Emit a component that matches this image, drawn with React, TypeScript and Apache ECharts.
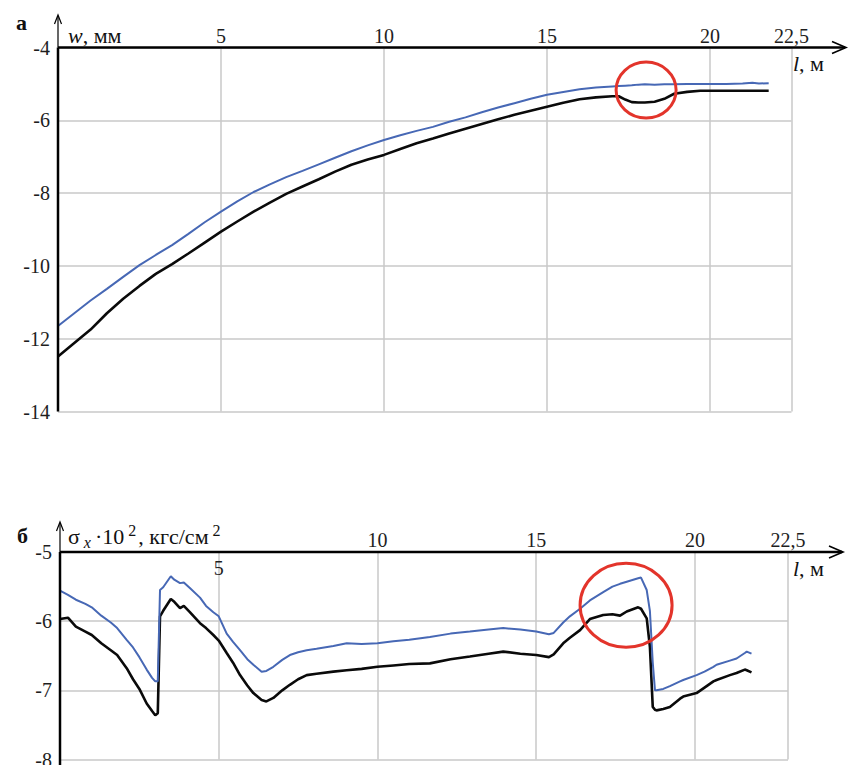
import React, { useEffect, useRef } from "react";
import * as echarts from "echarts";

// ---------- data: chart "а" (w, мм vs l, м) ----------
const topL = [0, 0.5, 1, 1.5, 2, 2.5, 3, 3.5, 4, 4.5, 5, 5.5, 6, 6.5, 7, 7.5, 8, 8.5, 9, 9.5, 10, 10.5, 11, 11.5, 12, 12.5, 13, 13.5, 14, 14.5, 15, 15.5, 16, 16.5, 17, 17.2, 17.4, 17.6, 17.8, 18, 18.3, 18.6, 18.9, 19.3, 19.7, 20, 20.5, 21, 21.3, 21.5, 21.8];
const topBlue = [-11.65, -11.3, -10.95, -10.63, -10.3, -9.98, -9.7, -9.43, -9.12, -8.8, -8.51, -8.23, -7.97, -7.76, -7.56, -7.39, -7.21, -7.03, -6.85, -6.69, -6.54, -6.41, -6.29, -6.18, -6.04, -5.92, -5.78, -5.65, -5.53, -5.41, -5.3, -5.22, -5.15, -5.1, -5.07, -5.06, -5.05, -5.04, -5.02, -5.01, -5.02, -5.01, -5.01, -5.0, -5.0, -5.0, -5.0, -4.99, -4.97, -4.99, -4.98];
const topBlack = [-12.49, -12.12, -11.75, -11.3, -10.9, -10.55, -10.22, -9.95, -9.66, -9.36, -9.06, -8.78, -8.51, -8.26, -8.02, -7.82, -7.62, -7.41, -7.22, -7.08, -6.95, -6.79, -6.63, -6.5, -6.36, -6.23, -6.1, -5.97, -5.85, -5.74, -5.63, -5.52, -5.42, -5.37, -5.34, -5.34, -5.43, -5.5, -5.51, -5.51, -5.49, -5.41, -5.27, -5.22, -5.19, -5.19, -5.19, -5.19, -5.19, -5.19, -5.19];

// ---------- data: chart "б" (σx·10², кгс/см² vs l, м) ----------
const botL = [0, 0.25, 0.5, 0.8, 1.0, 1.3, 1.6, 1.8, 2.1, 2.3, 2.5, 2.73, 2.9, 3.0, 3.08, 3.15, 3.25, 3.49, 3.6, 3.78, 3.9, 4.09, 4.41, 4.6, 4.83, 5.0, 5.25, 5.45, 5.67, 5.9, 6.09, 6.35, 6.5, 6.72, 7.0, 7.24, 7.5, 7.77, 8.08, 8.61, 9.03, 9.5, 10, 10.5, 11, 11.65, 12.3, 12.91, 13.5, 13.96, 14.5, 15.0, 15.4, 15.55, 15.85, 16.06, 16.38, 16.69, 17.11, 17.4, 17.64, 17.85, 18.21, 18.3, 18.48, 18.58, 18.67, 18.74, 18.79, 19.0, 19.21, 19.53, 19.63, 20.05, 20.3, 20.58, 20.68, 21.1, 21.31, 21.57, 21.63, 21.78];
const botBlue = [-5.56, -5.62, -5.69, -5.75, -5.8, -5.92, -6.02, -6.1, -6.27, -6.38, -6.52, -6.7, -6.82, -6.87, -6.87, -5.55, -5.51, -5.35, -5.4, -5.45, -5.44, -5.52, -5.66, -5.78, -5.87, -5.93, -6.18, -6.3, -6.42, -6.55, -6.63, -6.73, -6.72, -6.66, -6.56, -6.49, -6.45, -6.42, -6.4, -6.36, -6.32, -6.33, -6.32, -6.29, -6.27, -6.23, -6.18, -6.15, -6.12, -6.1, -6.12, -6.15, -6.19, -6.17, -6.02, -5.93, -5.82, -5.7, -5.58, -5.5, -5.46, -5.43, -5.38, -5.37, -5.55, -5.85, -6.6, -7.0, -7.0, -6.98, -6.94, -6.87, -6.85, -6.78, -6.73, -6.66, -6.63, -6.57, -6.54, -6.46, -6.44, -6.47];
const botBlack = [-5.97, -5.95, -6.08, -6.15, -6.2, -6.32, -6.42, -6.49, -6.68, -6.84, -6.98, -7.19, -7.3, -7.36, -7.33, -5.93, -5.85, -5.68, -5.72, -5.81, -5.78, -5.87, -6.03, -6.1, -6.2, -6.28, -6.46, -6.6, -6.78, -6.93, -7.04, -7.14, -7.16, -7.11, -7.0, -6.92, -6.84, -6.78, -6.76, -6.73, -6.71, -6.69, -6.66, -6.64, -6.62, -6.61, -6.55, -6.51, -6.47, -6.44, -6.47, -6.49, -6.52, -6.48, -6.32, -6.24, -6.13, -5.97, -5.91, -5.9, -5.92, -5.86, -5.8, -5.82, -5.96, -6.37, -7.24, -7.28, -7.29, -7.27, -7.24, -7.12, -7.09, -7.04, -6.96, -6.87, -6.85, -6.78, -6.75, -6.7, -6.71, -6.74];

// ---------- ticks & labels ----------
const topXTickValues = [5, 10, 15, 20, 22.5];
const topXTickLabels = ["5", "10", "15", "20", "22,5"];
const botXTickValues = [10, 15, 20];
const botXTickLabels = ["10", "15", "20"];
const botXEndLabel = "22,5";
const botXInsideTickValues = [5];
const botXInsideTickLabels = ["5"];

// annotation circle centers (data coordinates)
const topCircle = [18.04, -5.17];
const botCircle = [17.83, -5.77];

// ---------- layout ----------
const FONT = "Liberation Serif, Times New Roman, DejaVu Serif, serif";
const G1 = { left: 58, top: 47.5, width: 733.5, height: 364 };
const G2 = { left: 60, top: 552, width: 728, height: 207.5 };
const BOT_X_MAX = 22.93;
const BLUE = "#4768b5";
const BLACK = "#0a0a0a";
const RED = "#e3342b";
const GRIDC = "#c9c9c9";
const LABELC = "#1e1e1e";

const pick = (vals: number[], labels: string[]) => (v: number) => {
  const i = vals.findIndex((t) => Math.abs(t - v) < 1e-6);
  return i >= 0 ? labels[i] : "";
};

const labelStyle = { fontFamily: FONT, fontSize: 20, color: LABELC };

function buildOption() {
  return {
    animation: false,
    textStyle: { fontFamily: FONT },
    grid: [
      { ...G1, containLabel: false, outerBoundsMode: "none" },
      { ...G2, containLabel: false, outerBoundsMode: "none" },
    ],
    xAxis: [
      {
        gridIndex: 0, type: "value", position: "top", min: 0, max: 22.5, interval: 5,
        axisLine: { show: false }, axisTick: { show: false },
        splitLine: { show: true, lineStyle: { color: GRIDC, width: 1.5 } },
        axisLabel: { ...labelStyle, margin: 2, showMinLabel: false, showMaxLabel: true, formatter: pick(topXTickValues, topXTickLabels) },
      },
      {
        gridIndex: 1, type: "value", position: "top", min: 0, max: BOT_X_MAX, interval: 5,
        axisLine: { show: false }, axisTick: { show: false },
        splitLine: { show: true, lineStyle: { color: GRIDC, width: 1.5 } },
        axisLabel: {
          ...labelStyle, margin: 2, showMinLabel: false, showMaxLabel: true,
          formatter: (v: number) => (Math.abs(v - BOT_X_MAX) < 1e-6 ? botXEndLabel : pick(botXTickValues, botXTickLabels)(v)),
        },
      },
      {
        gridIndex: 1, type: "value", position: "top", min: 0, max: BOT_X_MAX, interval: 5,
        axisLine: { show: false }, axisTick: { show: false }, splitLine: { show: false },
        axisLabel: { ...labelStyle, inside: true, margin: 6, showMinLabel: false, formatter: pick(botXInsideTickValues, botXInsideTickLabels) },
      },
    ],
    yAxis: [
      {
        gridIndex: 0, type: "value", min: -14, max: -4, interval: 2,
        axisLine: { show: false }, axisTick: { show: false },
        splitLine: { show: true, lineStyle: { color: GRIDC, width: 1.5 } },
        axisLabel: { ...labelStyle, margin: 8, formatter: (v: number) => String(v) },
      },
      {
        gridIndex: 1, type: "value", min: -8, max: -5, interval: 1,
        axisLine: { show: false }, axisTick: { show: false },
        splitLine: { show: true, lineStyle: { color: GRIDC, width: 1.5 } },
        axisLabel: { ...labelStyle, margin: 8, formatter: (v: number) => String(v) },
      },
    ],
    series: [
      {
        type: "line", xAxisIndex: 0, yAxisIndex: 0, symbol: "none", showSymbol: false,
        data: topL.map((l, i) => [l, topBlack[i]]), lineStyle: { color: BLACK, width: 2.6 }, itemStyle: { color: BLACK },
      },
      {
        type: "line", xAxisIndex: 0, yAxisIndex: 0, symbol: "none", showSymbol: false,
        data: topL.map((l, i) => [l, topBlue[i]]), lineStyle: { color: BLUE, width: 2 }, itemStyle: { color: BLUE },
      },
      {
        type: "line", xAxisIndex: 1, yAxisIndex: 1, symbol: "none", showSymbol: false,
        data: botL.map((l, i) => [l, botBlack[i]]), lineStyle: { color: BLACK, width: 2.6 }, itemStyle: { color: BLACK },
      },
      {
        type: "line", xAxisIndex: 1, yAxisIndex: 1, symbol: "none", showSymbol: false,
        data: botL.map((l, i) => [l, botBlue[i]]), lineStyle: { color: BLUE, width: 2 }, itemStyle: { color: BLUE },
      },
    ],
  };
}

function txt(x: number, y: number, text: string, rich: any, extra: any = {}) {
  return {
    type: "text", x, y, z: 120, silent: true,
    style: { text, rich, fill: "#111", font: `20px ${FONT}`, align: "left", verticalAlign: "middle", ...extra },
  };
}

function buildGraphic(c1: number[], c2: number[]) {
  const t1x = G1.left, t1y = G1.top, t1b = G1.top + G1.height;
  const b1x = G2.left, b1y = G2.top;
  const ax = { stroke: "#000", lineWidth: 2.5 };
  const thin = { stroke: "#000", lineWidth: 1.2, fill: "none" };
  const base = { fontFamily: FONT, fontSize: 22, color: "#1a1a1a" };
  return [
    // chart а axes
    { type: "line", z: 100, silent: true, shape: { x1: t1x, y1: t1b, x2: t1x, y2: t1y }, style: ax },
    { type: "line", z: 100, silent: true, shape: { x1: t1x, y1: t1y, x2: t1x, y2: 16 }, style: thin },
    { type: "polyline", z: 100, silent: true, shape: { points: [[t1x - 3.5, 24], [t1x, 15], [t1x + 3.5, 24]] }, style: thin },
    { type: "line", z: 100, silent: true, shape: { x1: t1x, y1: t1y, x2: 845, y2: t1y }, style: ax },
    { type: "polyline", z: 100, silent: true, shape: { points: [[832, t1y - 6], [846, t1y], [832, t1y + 6]] }, style: { ...thin, lineWidth: 1.6 } },
    // chart б axes
    { type: "line", z: 100, silent: true, shape: { x1: b1x, y1: 765, x2: b1x, y2: b1y }, style: ax },
    { type: "line", z: 100, silent: true, shape: { x1: b1x, y1: b1y, x2: b1x, y2: 523 }, style: thin },
    { type: "polyline", z: 100, silent: true, shape: { points: [[b1x - 3.5, 531], [b1x, 522], [b1x + 3.5, 531]] }, style: thin },
    { type: "line", z: 100, silent: true, shape: { x1: b1x, y1: b1y, x2: 842, y2: b1y }, style: ax },
    { type: "polyline", z: 100, silent: true, shape: { points: [[829, b1y - 6], [843, b1y], [829, b1y + 6]] }, style: { ...thin, lineWidth: 1.6 } },
    // circles
    { type: "ellipse", z: 110, silent: true, shape: { cx: c1[0], cy: c1[1], rx: 30, ry: 28 }, style: { stroke: RED, lineWidth: 3, fill: "none" } },
    { type: "ellipse", z: 110, silent: true, shape: { cx: c2[0], cy: c2[1], rx: 46, ry: 42 }, style: { stroke: RED, lineWidth: 3, fill: "none" } },
    // panel letters
    txt(16, 22, "а", undefined, { font: `bold 22px ${FONT}`, fill: "#111" }),
    txt(17, 535, "б", undefined, { font: `bold 22px ${FONT}`, fill: "#111" }),
    // axis names
    txt(68, 35, "{i|w}{n|, мм}", { i: { ...base, fontStyle: "italic" }, n: { ...base } }),
    txt(793, 63, "{i|l}{n|, м}", { i: { ...base, fontStyle: "italic" }, n: { ...base } }),
    txt(793, 568, "{i|l}{n|, м}", { i: { ...base, fontStyle: "italic" }, n: { ...base } }),
    txt(
      68, 536,
      "{n|σ}{sub|x}{n|·10}{sup|2}{n|, кгс/см}{sup|2}",
      {
        n: { ...base, lineHeight: 28 },
        sub: { ...base, fontSize: 16, fontStyle: "italic", verticalAlign: "bottom", lineHeight: 28, padding: [0, 4, 0, 4] },
        sup: { ...base, fontSize: 16, verticalAlign: "top", lineHeight: 28, padding: [0, 2, 0, 4] },
      }
    ),
  ];
}

export default function App() {
  const ref = useRef<HTMLDivElement>(null);
  useEffect(() => {
    if (!ref.current) return;
    const chart = echarts.init(ref.current, null, { renderer: "svg" });
    chart.setOption(buildOption() as any);
    const c1 = chart.convertToPixel({ xAxisIndex: 0, yAxisIndex: 0 } as any, topCircle) as number[];
    const c2 = chart.convertToPixel({ xAxisIndex: 1, yAxisIndex: 1 } as any, botCircle) as number[];
    chart.setOption({ graphic: buildGraphic(c1, c2) } as any);
    return () => chart.dispose();
  }, []);
  return (
    <div
      ref={ref}
      style={{ position: "fixed", left: 0, top: 0, width: 859, height: 765, background: "#fff" }}
    />
  );
}
